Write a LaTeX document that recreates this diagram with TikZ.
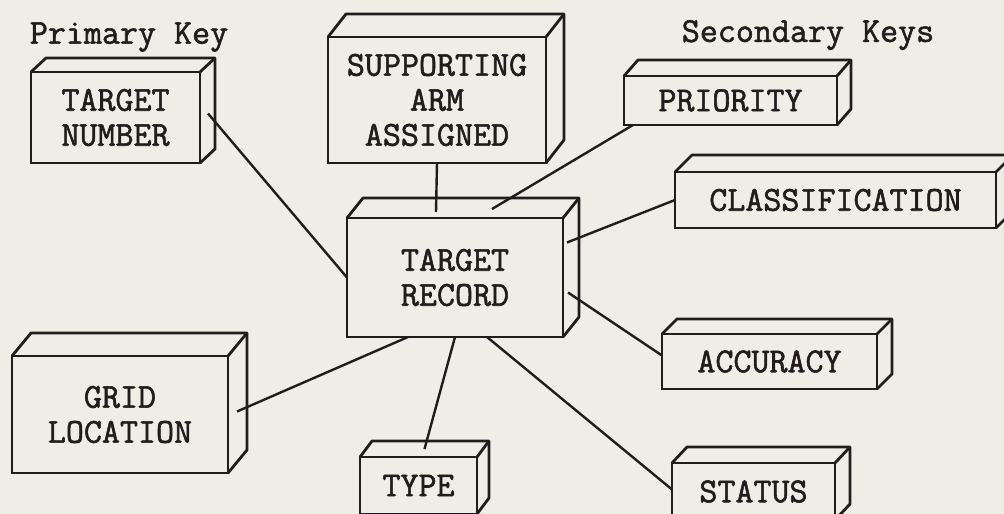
\documentclass[tikz,border=0pt]{standalone}
\usepackage{fontspec}
\setmonofont{Latin Modern Mono}[FakeBold=1.6]
\usepackage{tikz}
\usetikzlibrary{calc}
\definecolor{paper}{RGB}{238,238,231}
\definecolor{ink}{RGB}{35,28,28}
\newcommand{\keyfont}{\ttfamily\fontsize{35}{35}\selectfont}
% top and right faces of a box, drawn from its front node
\newcommand{\boxfaces}[3]{%
    \draw[face] (#1.north west) -- ++(#2,-#3) -- ($(#1.north east)+(#2,-#3)$) -- ($(#1.south east)+(#2,-#3)$) -- (#1.south east);
    \draw[face] (#1.north east) -- ++(#2,-#3);
}

\begin{document}
\begin{tikzpicture}[x=1pt,y=-1pt,
    keybox/.style={draw=ink,line width=2.8pt,inner sep=0pt,outer sep=0pt,align=center,font=\keyfont,text=ink},
    face/.style={draw=ink,line width=2.8pt,line join=round},
    link/.style={draw=ink,line width=2.4pt},
    caption/.style={font=\keyfont,text=ink}]
    \fill[paper] (0,0) rectangle (1004,514);
    \useasboundingbox (0,0) rectangle (1004,514);
    \node[caption] (prim) at (129,37) {Primary Key};
    \node[caption] (sec) at (808,35) {Secondary Keys};
    % front faces
    \node[keybox,minimum width=169,minimum height=91] (num) at (115.5,117.5) {TARGET\\NUMBER};
    \node[keybox,minimum width=218,minimum height=126] (arm) at (437,100) {SUPPORTING\\ARM\\ASSIGNED};
    \node[keybox,minimum width=213,minimum height=49] (pri) at (730.5,100.5) {PRIORITY};
    \node[keybox,minimum width=321,minimum height=56] (cls) at (835.5,200) {CLASSIFICATION};
    \node[keybox,minimum width=216,minimum height=119] (rec) at (455,277.5) {TARGET\\RECORD};
    \node[keybox,minimum width=215,minimum height=55] (acc) at (769.5,361.5) {ACCURACY};
    \node[keybox,minimum width=216,minimum height=117] (grid) at (120,414.5) {GRID\\LOCATION};
    \node[keybox,minimum width=117,minimum height=57] (type) at (418.5,485.5) {TYPE};
    \node[keybox,minimum width=163,minimum height=57] (stat) at (753.5,491.5) {STATUS};
    % depth
    \boxfaces{num}{15}{14}
    \boxfaces{arm}{18}{23}
    \boxfaces{pri}{14}{16}
    \boxfaces{cls}{17}{17}
    \boxfaces{rec}{16}{20}
    \boxfaces{acc}{15}{15}
    \boxfaces{grid}{19}{23}
    \boxfaces{type}{12}{16}
    \boxfaces{stat}{15}{16}
    % links to the record
    \draw[link] ($(num.east)+(8,-4)$) -- (rec.west);
    \draw[link] (arm.south) -- ($(rec.north)+(-19,-6)$);
    \draw[link] ($(pri.south west)+(9,0)$) -- ($(rec.north)+(37,-9)$);
    \draw[link] (cls.west) -- ($(rec.east)+(4,-35)$);
    \draw[link] ($(acc.west)+(0,-6)$) -- ($(rec.east)+(5,15)$);
    \draw[link] ($(stat.west)+(0,-2)$) -- ($(rec.south)+(32,0)$);
    \draw[link] ($(type.north)+(6,-8)$) -- (rec.south);
    \draw[link] ($(grid.east)+(9,-3)$) -- ($(rec.south)+(-47,0)$);
\end{tikzpicture}
\end{document}
